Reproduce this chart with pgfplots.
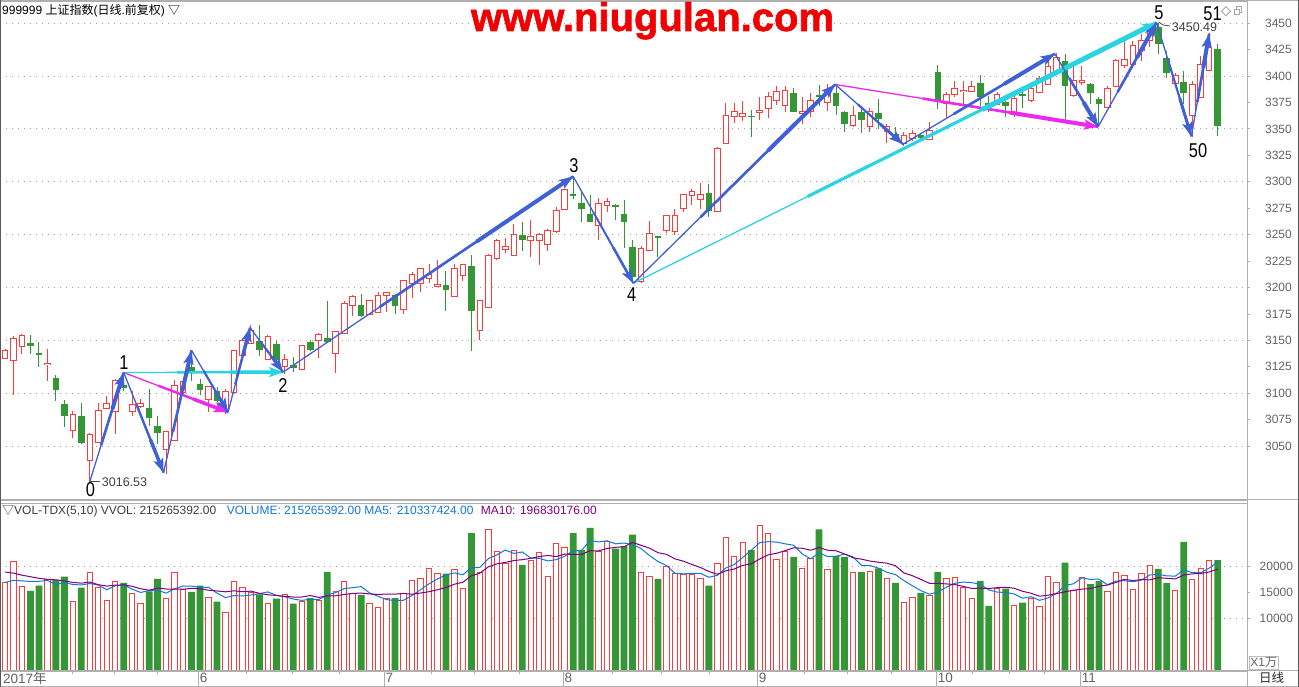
\documentclass[border=0pt]{standalone}
\usepackage{fontspec}
\setmainfont{Liberation Sans}
\newfontfamily\cjk{Noto Sans CJK SC}
\newfontface\titlefont{Liberation Sans Bold}[FakeBold=1.5]
\usepackage{graphicx}
\usepackage{pgfplots}
\pgfplotsset{compat=1.18}
\usepackage{pgfplotstable}
\usetikzlibrary{arrows.meta}

\definecolor{cred}{RGB}{250,60,60}
\definecolor{cgreen}{RGB}{52,150,52}
\definecolor{arrowblue}{RGB}{64,96,216}
\definecolor{acyan}{RGB}{40,212,226}
\definecolor{amag}{RGB}{238,40,238}
\definecolor{ma5c}{RGB}{20,120,215}
\definecolor{ma10c}{RGB}{128,0,128}
\definecolor{gridc}{RGB}{160,160,160}
\definecolor{labc}{RGB}{100,100,100}
\definecolor{framec}{RGB}{175,175,175}
\definecolor{hdrc}{RGB}{60,60,60}
\definecolor{titlered}{RGB}{240,0,0}

\newcommand{\fs}[1]{\fontsize{#1}{#1}\selectfont}

\pgfplotstableread{
i o h l c v
0 3133.2 3141.7 3132.2 3140.8 16.9
1 3131.3 3154.3 3098.2 3152.1 21.1
2 3143.9 3155.9 3137.0 3155.0 16.3
5 3127.0 3142.3 3111.8 3128.0 17.6
8 3064.5 3083.4 3057.2 3080.2 13.4
10 3036.7 3062.0 3016.5 3061.3 19.0
11 3053.4 3090.3 3053.0 3083.4 16.0
12 3085.9 3097.6 3085.0 3090.3 13.6
13 3082.4 3113.0 3061.3 3112.4 17.2
15 3082.4 3102.3 3078.7 3089.7 14.8
16 3087.2 3094.4 3085.9 3090.3 12.9
19 3047.1 3064.5 3023.5 3063.8 14.0
20 3055.0 3112.4 3054.5 3107.7 19.0
21 3100.7 3112.0 3099.2 3110.8 15.6
24 3094.4 3107.0 3081.8 3106.1 14.2
26 3083.5 3104.0 3080.0 3102.0 11.3
27 3100.7 3140.7 3099.0 3140.1 17.2
28 3136.0 3152.1 3135.0 3150.2 16.0
29 3147.4 3164.7 3146.4 3159.7 15.1
31 3132.3 3155.3 3131.3 3154.0 12.9
33 3125.3 3137.0 3118.1 3132.3 14.6
35 3122.2 3145.8 3122.0 3144.9 13.4
37 3149.6 3156.5 3133.2 3155.9 13.6
39 3137.9 3158.5 3118.7 3158.1 15.3
40 3156.8 3187.4 3156.0 3185.2 17.2
41 3183.3 3193.1 3173.2 3191.2 14.9
43 3174.8 3188.5 3174.0 3188.0 12.9
44 3176.4 3196.2 3176.0 3192.8 12.1
45 3192.1 3196.0 3176.4 3195.3 14.0
47 3179.5 3207.5 3175.4 3207.0 14.9
48 3203.8 3214.8 3189.6 3212.6 17.4
49 3203.8 3218.5 3196.2 3218.3 17.7
50 3208.8 3222.1 3203.8 3212.6 19.7
51 3201.0 3225.9 3200.0 3203.2 18.7
53 3191.5 3222.1 3190.6 3218.3 19.4
54 3211.7 3222.5 3205.7 3222.1 15.9
56 3159.7 3188.0 3150.5 3187.4 19.0
57 3181.1 3231.5 3180.5 3230.6 27.1
58 3227.5 3245.7 3226.2 3244.8 23.0
59 3236.3 3246.7 3232.2 3238.5 20.6
60 3230.6 3259.9 3230.0 3250.5 23.2
62 3244.8 3263.7 3228.4 3248.0 21.3
63 3244.2 3252.0 3221.1 3249.8 22.7
64 3240.4 3255.2 3234.7 3253.6 18.1
65 3252.7 3275.7 3252.0 3273.2 24.4
66 3274.1 3293.6 3273.5 3293.0 23.7
70 3258.3 3285.1 3244.8 3279.5 23.0
71 3277.2 3284.5 3271.0 3281.3 24.9
75 3205.7 3239.4 3204.7 3237.2 19.0
76 3235.3 3263.1 3235.0 3251.4 18.2
78 3253.6 3268.6 3252.0 3268.4 20.1
79 3253.0 3274.7 3249.8 3268.4 18.8
80 3275.0 3288.0 3271.0 3287.6 18.5
81 3287.3 3293.6 3277.9 3290.5 18.5
82 3283.5 3298.7 3274.7 3288.3 17.8
84 3271.6 3332.5 3271.0 3331.8 20.6
85 3336.5 3374.3 3336.0 3363.0 25.6
86 3361.7 3374.3 3355.1 3366.1 21.9
87 3361.7 3376.5 3357.6 3364.6 24.6
89 3365.5 3380.6 3358.6 3367.7 28.0
90 3369.6 3384.4 3360.1 3380.3 26.5
91 3377.2 3390.7 3372.4 3385.0 21.5
92 3372.4 3390.7 3365.5 3386.0 22.9
94 3365.0 3379.7 3354.5 3366.0 19.7
95 3366.1 3383.5 3360.8 3377.2 21.7
97 3374.9 3392.3 3367.0 3386.0 19.4
100 3352.9 3371.8 3352.0 3363.0 19.0
102 3352.0 3369.3 3346.6 3366.1 19.2
104 3347.5 3354.5 3336.2 3352.0 17.8
106 3336.5 3347.5 3334.0 3344.1 13.2
107 3341.2 3349.1 3338.7 3346.0 14.2
109 3340.3 3356.7 3340.0 3348.8 14.4
111 3374.0 3384.4 3360.1 3382.8 17.8
112 3382.2 3395.4 3379.7 3388.5 18.0
113 3385.4 3395.4 3373.4 3386.6 16.1
114 3385.0 3395.4 3384.4 3390.1 14.0
117 3373.4 3384.4 3373.0 3382.2 15.8
119 3363.9 3381.3 3360.8 3379.1 12.6
121 3377.2 3390.7 3375.0 3388.2 14.0
122 3384.4 3400.2 3384.0 3397.7 12.3
123 3392.3 3414.4 3392.0 3408.7 18.2
124 3404.3 3421.6 3403.0 3417.5 16.9
126 3381.3 3409.6 3380.6 3396.1 15.5
127 3394.2 3409.6 3391.7 3396.1 18.0
130 3370.2 3390.7 3369.6 3388.5 15.3
131 3390.1 3415.9 3390.0 3414.4 19.0
132 3409.6 3434.9 3408.0 3415.9 18.4
133 3411.2 3433.3 3411.0 3428.5 15.7
134 3423.8 3439.6 3414.4 3433.3 18.8
135 3433.9 3449.0 3427.0 3446.5 20.3
138 3392.9 3403.3 3392.3 3400.2 15.5
140 3362.3 3395.4 3341.9 3392.3 17.6
141 3379.7 3419.1 3379.0 3411.2 19.6
142 3404.9 3441.1 3404.3 3427.0 21.3
}\redtab

\pgfplotstableread{
i o h l c v
3 3147.7 3155.0 3137.0 3144.5 15.4
4 3137.9 3148.6 3124.4 3136.0 16.4
6 3114.3 3117.4 3092.8 3103.2 17.5
7 3089.7 3093.5 3067.6 3078.7 18.1
9 3078.7 3090.3 3051.9 3053.4 16.0
14 3108.0 3119.6 3101.7 3104.8 16.9
17 3086.5 3103.9 3069.2 3076.5 15.3
18 3069.2 3078.7 3051.9 3062.0 17.7
22 3124.4 3140.8 3111.8 3119.6 15.2
23 3108.6 3113.3 3098.2 3103.0 16.4
25 3102.3 3105.5 3091.3 3092.9 13.3
30 3149.6 3164.7 3135.4 3140.8 14.7
32 3146.4 3149.6 3130.7 3131.3 13.9
34 3126.6 3134.5 3119.7 3123.7 12.95
36 3148.7 3150.2 3140.1 3140.8 14.0
38 3152.1 3187.4 3147.1 3148.0 19.0
42 3183.3 3193.7 3172.0 3173.2 14.6
46 3192.8 3193.5 3174.8 3182.7 14.0
52 3202.5 3215.8 3178.0 3197.8 18.7
55 3220.5 3230.6 3139.5 3177.3 26.5
61 3249.8 3262.1 3234.1 3244.8 20.4
67 3288.3 3305.6 3283.6 3286.1 26.5
68 3279.8 3289.9 3262.4 3274.1 23.2
69 3269.4 3287.6 3261.5 3262.4 27.5
72 3277.9 3278.5 3264.0 3276.6 23.5
73 3269.3 3282.6 3237.2 3262.4 24.0
74 3238.5 3245.1 3204.0 3209.5 26.2
77 3248.3 3248.5 3229.3 3247.3 17.7
83 3288.9 3297.7 3266.8 3271.9 16.4
88 3362.3 3367.7 3341.9 3361.7 23.2
93 3383.8 3388.5 3366.0 3366.4 21.9
96 3382.2 3391.7 3371.8 3380.6 27.2
98 3383.8 3392.9 3363.3 3371.8 22.1
99 3366.1 3366.5 3346.6 3354.5 21.9
101 3366.1 3371.8 3346.0 3358.2 19.0
103 3365.2 3378.1 3349.7 3358.9 19.7
105 3345.0 3352.0 3340.3 3341.2 16.9
108 3344.4 3345.0 3339.3 3341.2 15.0
110 3404.0 3410.6 3368.7 3375.0 19.0
115 3393.2 3400.8 3371.8 3379.7 17.3
116 3374.0 3381.3 3365.5 3373.4 12.5
118 3375.6 3376.0 3360.8 3371.2 15.8
120 3382.8 3387.6 3370.2 3381.3 13.1
125 3414.4 3420.7 3358.3 3390.7 20.8
128 3392.3 3393.0 3373.4 3384.4 16.7
129 3378.1 3379.7 3351.9 3373.4 17.3
136 3446.5 3450.5 3420.7 3430.7 19.6
137 3416.9 3423.8 3398.0 3403.3 16.9
139 3393.9 3404.3 3373.4 3383.5 24.8
143 3425.4 3430.7 3343.4 3352.9 21.3
}\greentab

\pgfplotstableread{
i ma5 ma10
0 17.0 19.0
1 17.4 18.8
2 17.3 18.4
3 17.2 18.1
4 17.22 17.8
5 17.36 17.6
6 16.64 17.5
7 17.0 17.3
8 16.6 17.0
9 16.52 16.87
10 16.8 17.08
11 16.5 16.57
12 15.6 16.3
13 16.36 16.48
14 16.54 16.53
15 15.7 16.25
16 15.08 15.79
17 15.42 15.51
18 15.52 15.94
19 14.94 15.74
20 15.78 15.74
21 16.32 15.7
22 16.3 15.86
23 16.04 15.78
24 16.08 15.51
25 14.94 15.36
26 14.08 15.2
27 14.48 15.39
28 14.4 15.22
29 14.58 15.33
30 14.86 14.9
31 15.18 14.63
32 14.52 14.5
33 14.24 14.32
34 13.81 14.2
35 13.55 14.2
36 13.77 14.48
37 13.71 14.12
38 14.59 14.42
39 15.06 14.44
40 15.82 14.69
41 16.0 14.89
42 16.2 14.96
43 14.98 14.79
44 14.34 14.7
45 13.7 14.76
46 13.52 14.76
47 13.58 14.89
48 14.48 14.73
49 15.6 14.97
50 16.74 15.22
51 17.68 15.6
52 18.44 16.01
53 18.84 16.66
54 18.48 17.04
55 19.84 18.29
56 19.9 18.79
57 21.58 20.01
58 22.3 20.57
59 23.24 20.86
60 22.58 21.21
61 22.86 21.38
62 21.7 21.64
63 21.64 21.97
64 21.14 22.19
65 21.38 21.98
66 22.04 22.45
67 23.08 22.39
68 23.18 22.41
69 25.06 23.1
70 24.78 23.08
71 25.02 23.53
72 24.42 23.75
73 24.58 23.88
74 24.32 24.69
75 23.52 24.15
76 22.18 23.6
77 21.02 22.72
78 20.24 22.41
79 18.76 21.54
80 18.66 21.09
81 18.72 20.45
82 18.74 19.88
83 18.0 19.12
84 18.36 18.56
85 19.78 19.22
86 20.46 19.59
87 21.82 20.28
88 23.18 20.59
89 24.66 21.51
90 24.84 22.31
91 24.76 22.61
92 24.42 23.12
93 24.16 23.67
94 22.5 23.58
95 21.54 23.19
96 22.68 23.72
97 21.98 23.2
98 22.02 23.09
99 22.46 22.48
100 21.92 21.73
101 20.28 21.48
102 20.24 21.11
103 19.76 20.89
104 18.94 20.7
105 18.52 20.22
106 17.36 18.82
107 16.36 18.3
108 15.42 17.59
109 14.74 16.84
110 15.16 16.84
111 16.08 16.72
112 16.84 16.6
113 17.06 16.24
114 16.98 15.86
115 16.64 15.9
116 15.58 15.83
117 15.14 15.99
118 15.08 16.07
119 14.8 15.89
120 13.96 15.3
121 14.26 14.92
122 13.56 14.35
123 14.04 14.56
124 14.9 14.85
125 16.44 15.2
126 16.74 15.5
127 17.88 15.72
128 17.58 15.81
129 17.66 16.28
130 16.56 16.5
131 17.26 17.0
132 17.34 17.61
133 17.14 17.36
134 17.44 17.55
135 18.44 17.5
136 18.56 17.91
137 18.26 17.8
138 18.22 17.68
139 19.42 18.43
140 18.88 18.66
141 18.88 18.72
142 19.76 19.01
143 20.92 19.57
}\matab

\pgfplotsset{
  wick/.style={draw=none, no markers, forget plot,
    error bars/.cd, y dir=plus, y explicit, error mark=none,
    error bar style={draw=#1, line width=1pt, solid}},
  body/.style 2 args={draw=none, no markers, forget plot,
    error bars/.cd, y dir=both, y explicit, error mark=none,
    error bar style={draw=#1, line width=#2, solid}},
}

% tapered arrow: color, end width, pixel length, x1, y1, x2, y2
\newcommand{\tarrow}[7]{%
  \pgfmathsetmacro{\tmpa}{#3/3}%
  \pgfmathsetmacro{\tmpb}{2*#3/3}%
  \pgfmathsetmacro{\tmpw}{(1.3+#2)/2}%
  \addplot[#1, line width=1.3pt, forget plot, mark=none] coordinates {(#4,#5) (#6,#7)};
  \edef\tmpcmd{\noexpand\addplot[#1, line width=\tmpw pt, shorten <=\tmpa pt, forget plot, mark=none] coordinates {(#4,#5) (#6,#7)};}\tmpcmd
  \edef\tmpcmd{\noexpand\addplot[#1, line width=#2pt, shorten <=\tmpb pt, forget plot, mark=none, -{Stealth[length=14pt,width=10pt,inset=3pt]}] coordinates {(#4,#5) (#6,#7)};}\tmpcmd
}

\begin{document}
\begin{tikzpicture}[x=1pt,y=1pt]
\useasboundingbox (0,0) rectangle (1299,687);
\fill[white] (0,0) rectangle (1299,687);

% ---------------- price panel ----------------
\begin{axis}[
  at={(0,177)}, anchor=south west,
  width=1247pt, height=499pt, scale only axis,
  xmin=-0.59, xmax=146.46, ymin=2999.2, ymax=3471.1,
  axis line style={draw=framec},
  xtick=\empty,
  ytick={3050,3075,3100,3125,3150,3175,3200,3225,3250,3275,3300,3325,3350,3375,3400,3425,3450},
  ytick pos=right, yticklabel pos=right,
  tick align=outside, major tick length=3pt,
  tick style={draw=framec, line width=0.8pt},
  yticklabel style={font=\fs{12}, text=labc, anchor=east, inner sep=0pt, xshift=42pt},
  /pgf/number format/1000 sep={},
  /pgf/number format/assume math mode=true,
  extra y ticks={3050,3100,3150,3200,3250,3300,3350,3400,3450},
  extra y tick labels={},
  extra y tick style={grid=major, major tick length=0pt},
  major grid style={draw=gridc, line width=0.8pt, dash pattern=on 1pt off 5pt},
]
\addplot[wick=cred] table[x=i, y=l, y error plus expr=\thisrow{h}-\thisrow{l}] {\redtab};
\addplot[body={cred}{6.6pt}] table[x=i, y expr=(\thisrow{o}+\thisrow{c})/2, y error expr={abs(\thisrow{c}-\thisrow{o})/2+0.47}] {\redtab};
\addplot[body={white}{4.6pt}] table[x=i, y expr=(\thisrow{o}+\thisrow{c})/2, y error expr={max(abs(\thisrow{c}-\thisrow{o})/2-0.47,0)}] {\redtab};
\addplot[wick=cgreen] table[x=i, y=l, y error plus expr=\thisrow{h}-\thisrow{l}] {\greentab};
\addplot[body={cgreen}{6.6pt}] table[x=i, y expr=(\thisrow{o}+\thisrow{c})/2, y error expr={max(abs(\thisrow{c}-\thisrow{o})/2,0.5)}] {\greentab};

% analysis arrows
\tarrow{amag}{3.5}{111.6}{14}{3119.6}{26.3}{3082}
\tarrow{amag}{4}{266.3}{97.9}{3392}{128.9}{3352}
\tarrow{acyan}{3.5}{159.4}{14}{3119.6}{32.8}{3120}
\tarrow{acyan}{5}{584.5}{74.1}{3204}{135.8}{3450.5}
\tarrow{arrowblue}{4}{114.2}{10}{3016.5}{14}{3119.6}
\tarrow{arrowblue}{3.5}{107.7}{14}{3119.6}{18.7}{3025}
\tarrow{arrowblue}{4}{125.3}{18.7}{3025}{22}{3140.5}
\tarrow{arrowblue}{3}{71.8}{22}{3140.5}{26.3}{3082}
\tarrow{arrowblue}{3.5}{87.4}{26.3}{3082}{28.9}{3162}
\tarrow{arrowblue}{3}{55.3}{28.9}{3162}{32.8}{3120}
\tarrow{arrowblue}{4}{350}{32.8}{3120}{67}{3305}
\tarrow{arrowblue}{2.5}{122.6}{67}{3305}{74.1}{3204}
\tarrow{arrowblue}{4}{283.3}{74.1}{3204}{97.9}{3392}
\tarrow{arrowblue}{3}{90.4}{97.9}{3392}{105.9}{3335.5}
\tarrow{arrowblue}{4}{176.7}{105.9}{3335.5}{123.8}{3421}
\tarrow{arrowblue}{4}{84.8}{123.8}{3421}{128.9}{3352}
\tarrow{arrowblue}{4}{119.4}{128.9}{3352}{135.8}{3450.5}
\tarrow{arrowblue}{3}{118.9}{135.8}{3450.5}{139.9}{3343}
\tarrow{arrowblue}{4}{104.1}{139.9}{3343}{142}{3440}
\end{axis}

% ---------------- volume panel ----------------
\begin{axis}[
  at={(0,31)}, anchor=south west,
  width=1247pt, height=168pt, scale only axis,
  xmin=-0.59, xmax=146.46, ymin=0, ymax=32.3,
  axis line style={draw=framec},
  xtick={22.83,44.73,65.84,88.76,109.87,126.85},
  xticklabels={6,7,8,9,10,11},
  minor xtick={7.98,12.89,17.96,28.5,33.88,39.42,50.24,55.34,60.65,71.66,77.39,83.05,94.22,99.35,104.56,114.1,118.4,122.6},
  xtick pos=left,
  tick align=outside,
  xtick style={/pgfplots/major tick length=18pt, draw=framec, line width=0.8pt},
  minor tick length=3pt,
  minor tick style={draw=framec, line width=0.8pt},
  ytick={10,15,20}, yticklabels={10000,15000,20000},
  ytick pos=right, yticklabel pos=right,
  ytick style={/pgfplots/major tick length=3pt, draw=framec, line width=0.8pt},
  yticklabel style={font=\fs{12}, text=labc, anchor=east, inner sep=0pt, xshift=42pt},
  xticklabel style={font=\fs{13.5}, text=labc, anchor=north west, inner sep=0pt, xshift=1pt, yshift=2pt},
  /pgf/number format/assume math mode=true,
  extra y ticks={10,20}, extra y tick labels={},
  extra y tick style={grid=major},
  major grid style={draw=gridc, line width=0.8pt, dash pattern=on 1pt off 5pt},
]
\addplot[ybar, bar width=5.4pt, bar shift=0pt, draw=cred, fill=white, line width=1pt, forget plot] table[x=i,y=v] {\redtab};
\addplot[ybar, bar width=6.8pt, bar shift=0pt, draw=none, fill=cgreen, forget plot] table[x=i,y=v] {\greentab};
\addplot[ma5c, line width=1pt, mark=none, forget plot] table[x=i,y=ma5] {\matab};
\addplot[ma10c, line width=1pt, mark=none, forget plot] table[x=i,y=ma10] {\matab};
\end{axis}

% ---------------- frames ----------------
\draw[framec, line width=0.8pt] (0,17) -- (1299,17);
\draw[framec, line width=0.8pt] (0,187.5) -- (1299,187.5);
\draw[framec, line width=0.8pt] (0,0.5) -- (1299,0.5);
\draw[framec, line width=0.8pt] (0,686.5) -- (1299,686.5);
\draw[framec, line width=0.8pt] (1247,0) -- (1247,687);
\draw[black!65, line width=1pt] (0.5,0) -- (0.5,687);
\draw[black!65, line width=1pt] (1298.5,0) -- (1298.5,687);

% ---------------- texts ----------------
\node[anchor=base west, inner sep=0pt, font=\fs{12}] at (2,672) {999999 {\cjk 上证指数}({\cjk 日线}.{\cjk 前复权}) {\cjk ▽}};
\node[anchor=base, inner sep=0pt, font=\titlefont\fs{40}, text=titlered] at (652.5,656) {www.niugulan.com};

\node[anchor=base west, inner sep=0pt, font=\fs{12}, text=hdrc] at (2,172) {{\cjk ▽}VOL-TDX(5,10) VVOL: 215265392.00};
\node[anchor=base west, inner sep=0pt, font=\fs{12}, text=ma5c] at (226.7,172) {VOLUME: 215265392.00 MA5: 210337424.00};
\node[anchor=base west, inner sep=0pt, font=\fs{12}, text=ma10c] at (480.7,172) {MA10: 196830176.00};

\node[anchor=base west, inner sep=0pt, font=\fs{13.5}, text=labc] at (3,3) {2017{\cjk 年}};
\node[anchor=base west, inner sep=0pt, font=\fs{12.5}, text=black!85] at (1259,4) {\cjk 日线};
\draw[black!25, line width=0.8pt] (1249.3,18) rectangle (1278.3,31);
\node[anchor=center, inner sep=0pt, font=\fs{12}, text=labc] at (1263.8,24.5) {X1{\cjk 万}};

% wave labels
\begin{scope}[every node/.style={inner sep=0pt, anchor=center, font=\fs{20}}]
\node at (90.5,197) {\scalebox{0.82}[1]{0}};
\node at (124,324.5) {\scalebox{0.82}[1]{1}};
\node at (283,301.5) {\scalebox{0.82}[1]{2}};
\node at (574,521.5) {\scalebox{0.82}[1]{3}};
\node at (631.7,392) {\scalebox{0.82}[1]{4}};
\node at (1159,674) {\scalebox{0.82}[1]{5}};
\node at (1212.5,673.7) {\scalebox{0.82}[1]{51}};
\node at (1198,536) {\scalebox{0.82}[1]{50}};
\end{scope}

% price callouts
\draw[black!70, line width=0.8pt] (90,206) -- (100,206);
\node[anchor=base west, inner sep=0pt, font=\fs{12.5}, text=black!75] at (101.7,200.3) {3016.53};
\draw[black!70, line width=0.8pt] (1158.5,665) -- (1163,662) -- (1170,661);
\node[anchor=base west, inner sep=0pt, font=\fs{12.5}, text=black!75] at (1171.7,655.3) {3450.49};

% top-right icons
\draw[black!35, line width=0.8pt] (1221.5,675.7) -- (1226,680.2) -- (1230.5,675.7) -- (1226,671.2) -- cycle;
\draw[black!35, line width=0.8pt] (1234.5,672.5) rectangle (1239.5,677.5);
\draw[black!35, line width=0.8pt] (1236.5,677.5) -- (1236.5,680.5) -- (1241.5,680.5) -- (1241.5,675) -- (1239.5,675);
\end{tikzpicture}
\end{document}
